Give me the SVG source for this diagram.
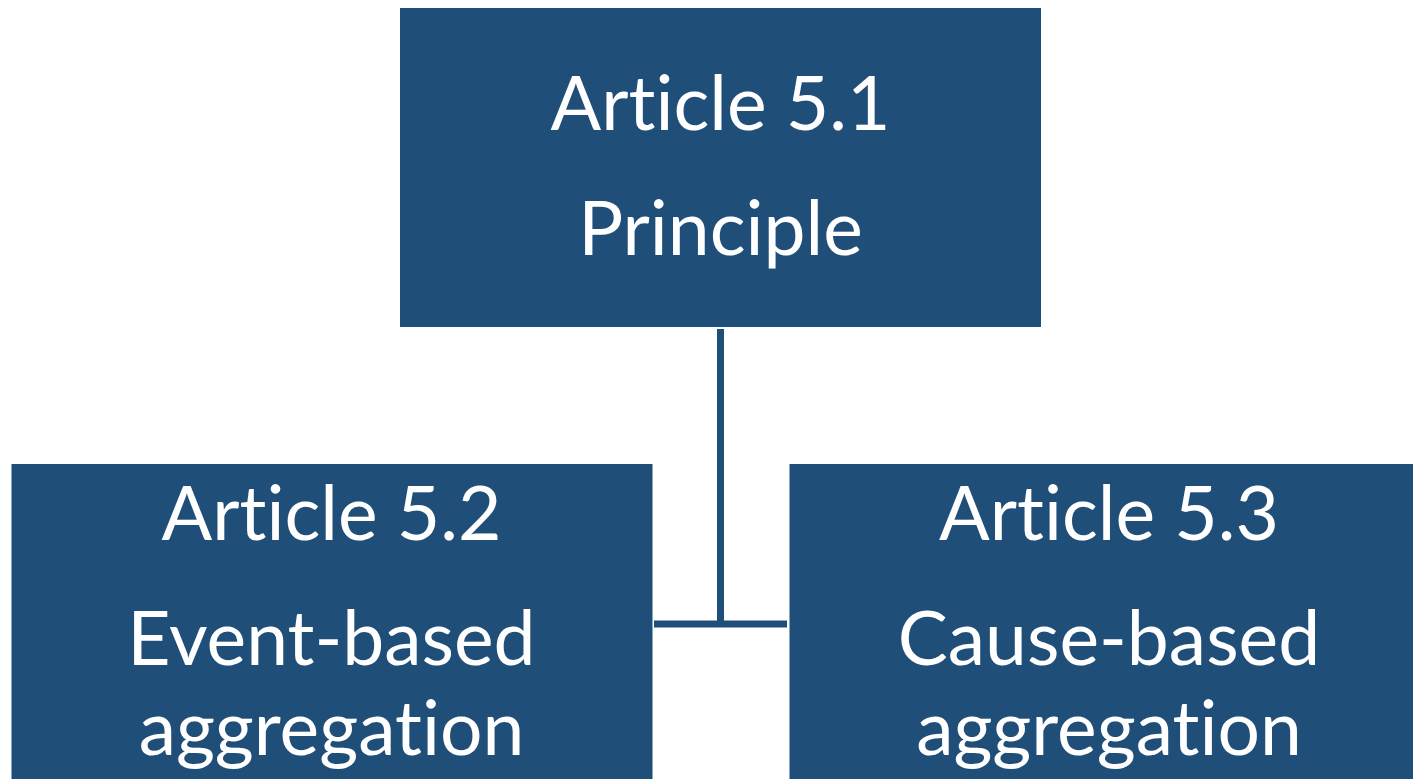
<svg xmlns="http://www.w3.org/2000/svg" width="1413" height="779" viewBox="0 0 1413 779">
<style>
.box{fill:#1F4E79;}
.t{fill:#ffffff;font-family:Lato,"Open Sans","Liberation Sans",sans-serif;font-size:75px;text-anchor:middle;font-variant-ligatures:none;font-feature-settings:"liga" 0;}
.c{stroke:#1F4E79;stroke-width:7;fill:none;}
</style>
<rect width="1413" height="779" fill="#ffffff"/>
<g id="connectors">
<line class="c" x1="720.5" y1="329" x2="720.5" y2="627"/>
<line class="c" x1="654" y1="624" x2="787" y2="624"/>
</g>
<g id="n51">
<rect class="box" x="400" y="8" width="641" height="319"/>
<text class="t" x="720.5" y="130">Article 5.1</text>
<text class="t" x="720.5" y="255">Principle</text>
</g>
<g id="n52">
<rect class="box" x="11.5" y="464" width="641" height="330"/>
<text class="t" x="331.5" y="540">Article 5.2</text>
<text class="t" x="331.5" y="665">Event-based</text>
<text class="t" x="331.5" y="755">aggregation</text>
</g>
<g id="n53">
<rect class="box" x="789.5" y="464" width="640" height="330"/>
<text class="t" x="1109" y="540">Article 5.3</text>
<text class="t" x="1109" y="665">Cause-based</text>
<text class="t" x="1109" y="755">aggregation</text>
</g>
</svg>
